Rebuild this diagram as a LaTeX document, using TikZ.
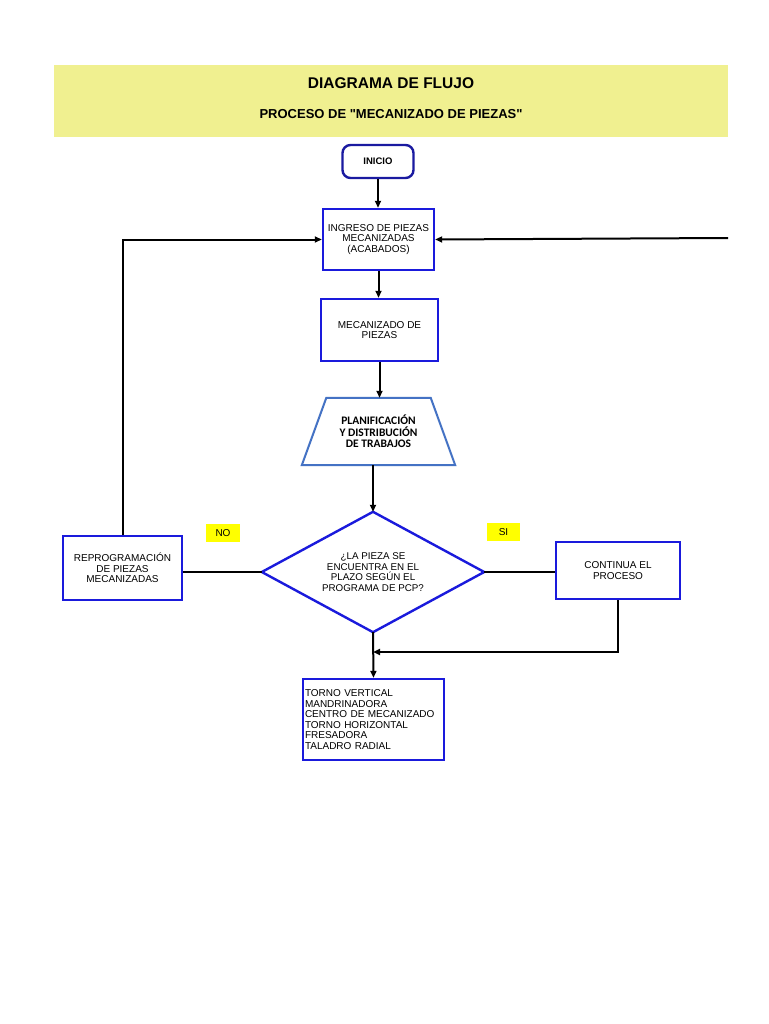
\documentclass[tikz,border=0pt]{standalone}
\usepackage{fontspec}
\setmainfont{Liberation Sans}
\newfontfamily\titlefont{Liberation Sans}[Ligatures=TeXOff]
\newfontfamily\carl{Carlito}
\usetikzlibrary{arrows.meta}
\definecolor{band}{HTML}{F0F090}
\definecolor{navy}{HTML}{1A1AA0}
\definecolor{bblue}{HTML}{1A1ADC}
\definecolor{steel}{HTML}{4472C4}
\definecolor{hl}{HTML}{FFFF00}
\tikzset{
  box/.style={draw=bblue, line width=2.4pt, fill=white, align=center, inner sep=2pt,
     font=\fontsize{10}{10.7}\selectfont},
  conn/.style={draw=black, line width=2pt},
  arr/.style={conn, -{Triangle[length=7pt,width=6pt]}},
  tag/.style={fill=hl, minimum width=34pt, minimum height=18pt, inner sep=0pt,
     font=\fontsize{10}{12}\selectfont}
}
\begin{document}
\begin{tikzpicture}[x=1pt,y=-1pt]
\useasboundingbox (0,0) rectangle (768,1024);
\fill[white] (0,0) rectangle (768,1024);
% header band
\node[fill=band, minimum width=674pt, minimum height=72pt, inner sep=0pt] (hdr) at (391,101) {};
\node[font=\titlefont\bfseries\fontsize{15.5}{18}\selectfont] (t1) at (391,83) {DIAGRAMA DE FLUJO};
\node[font=\titlefont\bfseries\fontsize{13}{15}\selectfont] (t2) at (391,114) {PROCESO DE "MECANIZADO DE PIEZAS"};
% nodes
\node[draw=navy, line width=2.4pt, rounded corners=8pt, minimum width=71pt, minimum height=33pt,
      font=\bfseries\fontsize{9.5}{11}\selectfont, inner sep=0pt] (ini) at (378,161.5) {INICIO};
\node[box, minimum width=111pt, minimum height=61pt] (ing) at (378.5,239.5)
   {INGRESO DE PIEZAS\\MECANIZADAS\\(ACABADOS)};
\node[box, minimum width=117pt, minimum height=62pt] (mec) at (379.5,330)
   {MECANIZADO DE\\PIEZAS};
\node[minimum width=153pt, minimum height=67pt, inner sep=0pt, align=center,
      font=\carl\bfseries\fontsize{11.5}{11.5}\selectfont] (tz) at (378.5,431.5)
   {PLANIFICACIÓN\\Y DISTRIBUCIÓN\\DE TRABAJOS};
\draw[steel, line width=2pt] (tz.south west) -- (tz.south east)
   -- ([xshift=-24.5pt]tz.north east) -- ([xshift=24.5pt]tz.north west) -- cycle;
\node[minimum width=222pt, minimum height=120pt, inner sep=0pt, align=center,
      font=\fontsize{9.8}{10.7}\selectfont] (dm) at (373,572)
   {¿LA PIEZA SE\\ENCUENTRA EN EL\\PLAZO SEGÚN EL\\PROGRAMA DE PCP?};
\draw[bblue, line width=2.4pt] (dm.north) -- (dm.east) -- (dm.south) -- (dm.west) -- cycle;
\node[box, minimum width=119pt, minimum height=64pt] (rep) at (122.5,568)
   {REPROGRAMACIÓN\\DE PIEZAS\\MECANIZADAS};
\node[box, minimum width=124pt, minimum height=57pt] (con) at (618,570.5)
   {CONTINUA EL\\PROCESO};
\node[box, minimum width=141pt, minimum height=81pt, text width=137pt, align=left,
      font=\fontsize{10}{10.5}\selectfont] (tor) at (373.5,719.5)
   {TORNO VERTICAL\\MANDRINADORA\\CENTRO DE MECANIZADO\\TORNO HORIZONTAL\\FRESADORA\\TALADRO RADIAL};
\node[tag] (no) at (223,533) {NO};
\node[tag, minimum width=33pt] (si) at (503.5,532) {SI};
% connectors
\coordinate (rin) at (728,238);
\coordinate (join) at (373,652);
\draw[arr] (ini.south) -- (ini.south |- ing.north);
\draw[arr] (ing.south) -- (ing.south |- mec.north);
\draw[arr] (mec.south) -- (mec.south |- tz.north);
\draw[arr] (dm.north |- tz.south) -- (dm.north);
\draw[conn] (dm.west) -- (dm.west -| rep.east);
\draw[arr] (rep.north) |- (ing.west);
\draw[conn] (dm.east) -- (dm.east -| con.west);
\draw[arr] (con.south) |- (join);
\draw[arr] (dm.south) -- (tor.north);
\draw[arr] (rin) -- (ing.east);
\end{tikzpicture}
\end{document}
